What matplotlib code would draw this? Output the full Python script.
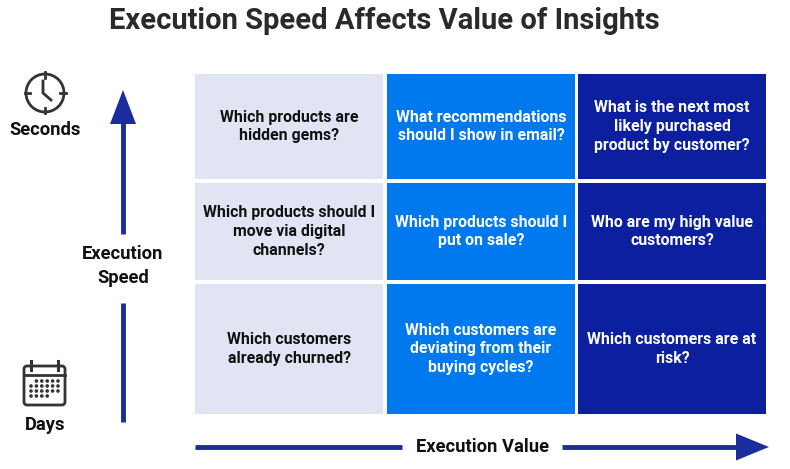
import matplotlib.pyplot as plt
from matplotlib.patches import Rectangle, Circle, FancyBboxPatch, FancyArrow

plt.rcParams['font.family'] = ['Roboto', 'DejaVu Sans']

title = "Execution Speed Affects Value of Insights"
x_label = "Execution Value"
y_label = "Execution\nSpeed"
top_label = "Seconds"
bottom_label = "Days"

# questions per row (top = fastest) and column (left = lowest value)
questions = [
    ["Which products are\nhidden gems?",
     "What recommendations\nshould I show in email?",
     "What is the next most\nlikely purchased\nproduct by customer?"],
    ["Which products should I\nmove via digital\nchannels?",
     "Which products should I\nput on sale?",
     "Who are my high value\ncustomers?"],
    ["Which customers\nalready churned?",
     "Which customers are\ndeviating from their\nbuying cycles?",
     "Which customers are at\nrisk?"],
]
col_colors = ["#E1E4F3", "#0078EE", "#0B1F9F"]
col_text = ["#111111", "white", "white"]

col_edges = [(195, 383), (387, 575), (578, 766)]
row_edges = [(74, 179), (183, 280), (284, 414)]

arrow_color = "#1A2C9E"
icon_color = "#333333"

fig = plt.figure(figsize=(7.9, 4.69), dpi=100)
ax = fig.add_axes([0, 0, 1, 1])
ax.set_xlim(0, 790)
ax.set_ylim(469, 0)
ax.axis('off')

ax.text(384, 21, title, ha='center', va='center', fontsize=21,
        fontweight='bold', color='#2a2a2a')

for r, row in enumerate(questions):
    y0, y1 = row_edges[r]
    for c, q in enumerate(row):
        x0, x1 = col_edges[c]
        ax.add_patch(Rectangle((x0, y0), x1 - x0, y1 - y0,
                               facecolor=col_colors[c], edgecolor='none'))
        ax.text((x0 + x1) / 2, (y0 + y1) / 2, q, ha='center', va='center',
                fontsize=11.4, fontweight='bold', color=col_text[c],
                linespacing=1.32)

# vertical axis arrow
ax.plot([123, 123], [422, 303], color=arrow_color, lw=3.5, solid_capstyle='butt')
ax.plot([123, 123], [234, 120], color=arrow_color, lw=3.5, solid_capstyle='butt')
ax.add_patch(FancyArrow(123, 124, 0, -34, width=0, head_width=26,
                        head_length=34, length_includes_head=True,
                        color=arrow_color, lw=0))
ax.text(123, 266, y_label, ha='center', va='center', fontsize=13.2,
        fontweight='bold', color='#111111', linespacing=1.38)

# horizontal axis arrow
ax.plot([195, 402], [447, 447], color=arrow_color, lw=3.5, solid_capstyle='butt')
ax.plot([562, 740], [447, 447], color=arrow_color, lw=3.5, solid_capstyle='butt')
ax.add_patch(FancyArrow(736, 447, 33, 0, width=0, head_width=27,
                        head_length=33, length_includes_head=True,
                        color=arrow_color, lw=0))
ax.text(482, 447, x_label, ha='center', va='center', fontsize=13.2,
        fontweight='bold', color='#111111')

# clock icon
cx, cy, rad = 45, 93, 19
ax.add_patch(Circle((cx, cy), rad, facecolor='none', edgecolor=icon_color, lw=2))
for dx, dy in [(0, -1), (0, 1), (-1, 0), (1, 0)]:
    ax.plot([cx + dx * (rad - 4), cx + dx * (rad + 1.5)],
            [cy + dy * (rad - 4), cy + dy * (rad + 1.5)], color=icon_color, lw=2)
ax.plot([cx - 2, cx - 2, cx + 6], [cy - 12, cy, cy + 7], color=icon_color,
        lw=2, solid_joinstyle='miter')
ax.text(45, 130, top_label, ha='center', va='center', fontsize=13.2,
        fontweight='bold', color='#111111')

# calendar icon
ax.add_patch(FancyBboxPatch((24, 366), 41, 39, boxstyle='round,pad=0,rounding_size=3',
                            facecolor='none', edgecolor=icon_color, lw=2))
ax.plot([24, 65], [375, 375], color=icon_color, lw=2)
for rx in [31, 58]:
    ax.plot([rx, rx], [361, 370], color=icon_color, lw=2.2)
dot_rows = [range(1, 6), range(0, 6), range(0, 6), range(0, 4)]
for i, cols in enumerate(dot_rows):
    for j in cols:
        ax.add_patch(Circle((31 + j * 5.4, 381 + i * 5), 1.1, color=icon_color))
ax.text(45, 425, bottom_label, ha='center', va='center', fontsize=13.2,
        fontweight='bold', color='#111111')

fig.savefig('out.png', dpi=100)
